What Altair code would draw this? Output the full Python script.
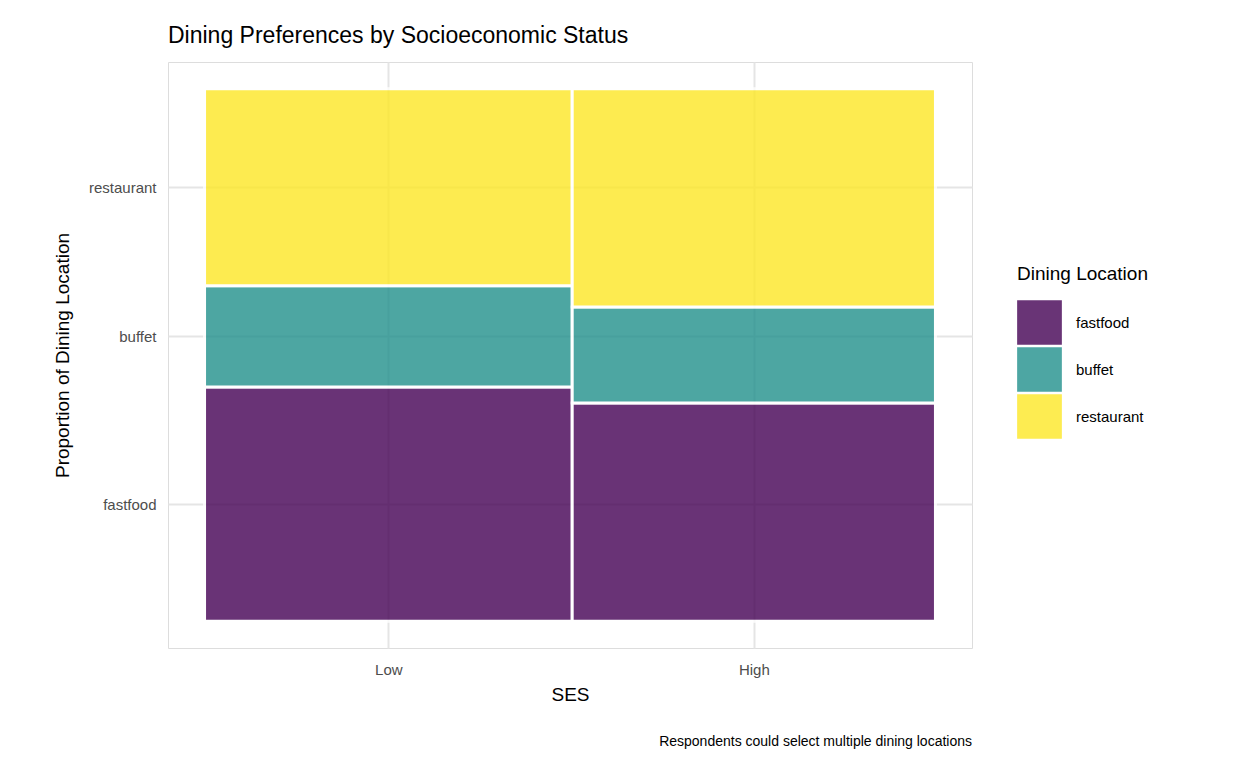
import altair as alt
import pandas as pd

# ===== Data =====
SES = ["Low", "High"]
SES_SHARE = [0.503, 0.497]
LOCATIONS = ["fastfood", "buffet", "restaurant"]
PROPS = {
    "Low": [0.44, 0.19, 0.37],
    "High": [0.41, 0.18, 0.41],
}
COLORS = ["#440154", "#21908C", "#FDE725"]

# ===== Build mosaic rectangles =====
rows = []
x0 = 0.0
for ses, share in zip(SES, SES_SHARE):
    y0 = 0.0
    for loc, p in zip(LOCATIONS, PROPS[ses]):
        rows.append({"ses": ses, "loc": loc, "x": x0, "x2": x0 + share,
                     "y": y0, "y2": y0 + p})
        y0 += p
    x0 += share
df = pd.DataFrame(rows)

x_ticks = [r["x"] + (r["x2"] - r["x"]) / 2 for r in rows if r["loc"] == "fastfood"]
low = df[df.ses == "Low"]
y_ticks = list((low.y + low.y2) / 2)

x_expr = f"datum.value < {x_ticks[0] + 0.01} ? 'Low' : 'High'"
y_expr = (f"datum.value < {y_ticks[0] + 0.01} ? 'fastfood' : "
          f"(datum.value < {y_ticks[1] + 0.01} ? 'buffet' : 'restaurant')")

FONT = "Liberation Sans"
dom = [-0.05, 1.05]

rects = alt.Chart(df).mark_rect(stroke="white", strokeWidth=3, opacity=0.8).encode(
    x=alt.X("x:Q", scale=alt.Scale(domain=dom, nice=False, zero=False),
            axis=alt.Axis(values=x_ticks, labelExpr=x_expr, title="SES",
                          domain=False, ticks=False, gridColor="#e5e5e5", gridWidth=2,
                          labelFontSize=15, labelColor="#4d4d4d", titleFontSize=19,
                          titleFontWeight="normal", labelPadding=14, titlePadding=8)),
    x2="x2:Q",
    y=alt.Y("y:Q", scale=alt.Scale(domain=dom, nice=False, zero=False),
            axis=alt.Axis(values=y_ticks, labelExpr=y_expr,
                          title="Proportion of Dining Location",
                          domain=False, ticks=False, gridColor="#e5e5e5", gridWidth=2,
                          labelFontSize=15, labelColor="#4d4d4d", titleFontSize=19,
                          titleFontWeight="normal", labelPadding=12, titlePadding=16)),
    y2="y2:Q",
    color=alt.Color("loc:N", scale=alt.Scale(domain=LOCATIONS, range=COLORS),
                    legend=alt.Legend(title="Dining Location", symbolType="square",
                                      symbolSize=2000, symbolStrokeWidth=0,
                                      symbolOpacity=0.8, labelFontSize=15,
                                      titleFontSize=19, titleFontWeight="normal",
                                      orient="none", legendX=849, legendY=203,
                                      rowPadding=2, labelOffset=14, titlePadding=16)),
)

caption = alt.Chart(pd.DataFrame({"t": ["Respondents could select multiple dining locations"]})).mark_text(
    align="right", baseline="middle", fontSize=14, font=FONT, color="black"
).encode(x=alt.value(804), y=alt.value(680), text="t:N")

chart = alt.layer(rects, caption).properties(
    width=804, height=586,
    title=alt.Title("Dining Preferences by Socioeconomic Status", anchor="start",
                    frame="group", fontSize=23, fontWeight="normal", font=FONT, offset=14),
    autosize="none",
    padding={"left": 160, "top": 54, "right": 268, "bottom": 112},
).configure_view(strokeWidth=0).configure(font=FONT)

chart.save("out.html", embed_options={"renderer": "svg", "actions": False})
